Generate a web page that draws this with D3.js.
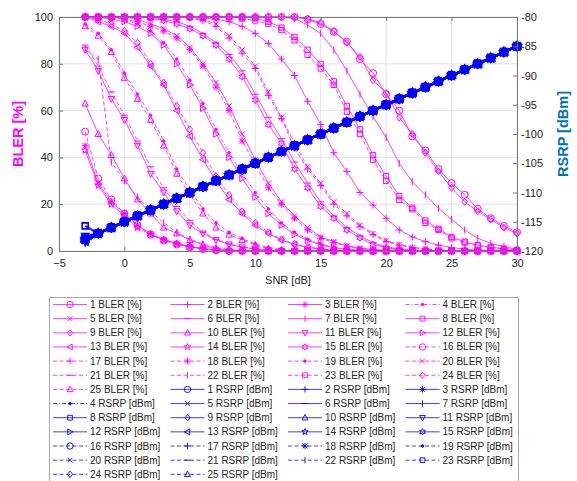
<!DOCTYPE html>
<html><head><meta charset="utf-8">
<script src="https://cdn.jsdelivr.net/npm/d3@7"></script>
<style>body{margin:0;background:#fff} text{font-family:"Liberation Sans",Arial,Helvetica,sans-serif}</style>
</head><body><svg id="c" width="577" height="481"></svg>
<script>
// ---------------- data ----------------
const snr = [-3,-2,-1,0,1,2,3,4,5,6,7,8,9,10,11,12,13,14,15,16,17,18,19,20,21,22,23,24,25,26,27,28,29,30];
const xTicks = [-5,0,5,10,15,20,25,30];
const blerTicks = [0,20,40,60,80,100];
const rsrpTicks = [-120,-115,-110,-105,-100,-95,-90,-85,-80];

const bler01 = [100,100,100,100,100,100,100,100,100,100,100,100,100,100,100,100,100,99,97,93.7,89.5,82,76,67,60,49,43,35,29,24,18,14,10.7,8];
const bler02 = [100,100,100,100,100,100,100,100,100,99.6,99,98,96,93,88.7,82,75,64,54,42,34,25,19.6,14,9,6,4,2.5,1.5,0.8,0.4,0.2,0,0];
const bler03 = [45,29,21,16,11,7.5,5,3.3,2,1,0.5,0.2,0,0,0,0,0,0,0,0,0,0,0,0,0,0,0,0,0,0,0,0,0,0];
const bler04 = [100,100,100,99,97,94,89,82,73,63,52,42,33,25,18,12,8,5,3,1.6,0.8,0.3,0,0,0,0,0,0,0,0,0,0,0,0];
const bler05 = [100,100,100,100,99,97,95,92,87,80,72,62,50,39,29,21,15,10,6,4,2.3,1.2,0.6,0.3,0.1,0,0,0,0,0,0,0,0,0];
const bler06 = [100,100,100,100,100,100,99,98,96,93,89,84,77,67,57,48,38,29,21,15,10,6.5,3.5,1.8,0.8,0.3,0,0,0,0,0,0,0,0];
const bler07 = [100,100,100,100,100,100,100,100,100,100,100,100,100,100,100,99.8,99.4,96.6,93,86,77,67,57.5,48.5,37.5,29.6,24,18.2,13.5,9,5.4,3.3,1.9,0.7];
const bler08 = [100,100,100,100,100,100,100,100,100,100,100,100,100,99.5,98,95.5,91.5,86,80,72.5,62,52,41,32,23.5,18.5,13,9.5,6,4,2.5,1.6,1,0.5];
const bler09 = [100,100,100,100,100,100,100,100,100,100,100,100,100,100,100,100,100,99.3,97.5,94,89,83,73,67.5,57,50,42,34,27,21,17,13.5,10,7.5];
const bler10 = [63,50,41,31,22,16,10,7.5,4.7,2.6,1,0.5,0.2,0,0,0,0,0,0,0,0,0,0,0,0,0,0,0,0,0,0,0,0,0];
const bler11 = [86,77,65,56,45,33,25,17,11,7.5,4.7,2.8,1.6,0.8,0.3,0,0,0,0,0,0,0,0,0,0,0,0,0,0,0,0,0,0,0];
const bler12 = [100,100,99,98,96,93,88,80,71,61,50,40,31,23,16,11,7,4.5,2.6,1.4,0.6,0.2,0,0,0,0,0,0,0,0,0,0,0,0];
const bler13 = [100,98,96,93,87,79,71,60,49,39,30,22,16,11,7.5,4.7,2.8,1.5,0.8,0.3,0,0,0,0,0,0,0,0,0,0,0,0,0,0];
const bler14 = [43,28,20,15,10,7,4.7,3,1.8,0.9,0.4,0.1,0,0,0,0,0,0,0,0,0,0,0,0,0,0,0,0,0,0,0,0,0,0];
const bler15 = [100,100,100,100,100,99.5,98.5,97,95,92,88,82,74.5,64.5,54,46,35,27,19,14,9,5.6,2.8,1.4,0.6,0.2,0,0,0,0,0,0,0,0];
const bler16 = [51,31,22,16,11,7,4.5,2.8,1.6,0.8,0.3,0,0,0,0,0,0,0,0,0,0,0,0,0,0,0,0,0,0,0,0,0,0,0];
const bler17 = [100,100,100,100,100,100,100,100,99.5,98.5,96,91,84.5,78,66.5,56.7,44,35,28,20,15,10.4,7,4,2.5,1.5,0.8,0.4,0.2,0,0,0,0,0];
const bler18 = [100,100,100,99,98,96,94,91,86,79,70,60,47,37,27,20,14,9,5.4,3.6,2,1,0.5,0.2,0,0,0,0,0,0,0,0,0,0];
const bler19 = [97,93,86,76,67,58,47,35,26,18,12,8,5.3,3,1.5,0.6,0.2,0,0,0,0,0,0,0,0,0,0,0,0,0,0,0,0,0];
const bler20 = [100,100,100,100,100,100,100,100,99.7,99,97,92,86,79,68,57,46,36,29,21,16,11,7.5,4.5,2.8,1.6,0.9,0.5,0.2,0,0,0,0,0];
const bler21 = [88,79,68,58,47,36,27,19,13,8,5,3,1.8,1,0.4,0.1,0,0,0,0,0,0,0,0,0,0,0,0,0,0,0,0,0,0];
const bler22 = [86,82,38,30,23,17,12,8,5,3,1.5,0.6,0.2,0,0,0,0,0,0,0,0,0,0,0,0,0,0,0,0,0,0,0,0,0];
const bler23 = [100,100,100,100,100,100,100,100,100,100,100,100,99.3,98.5,97,94.4,90,83.8,78,71,59.5,50,39,30,21.8,17.8,12,9,5.4,3.6,2.3,1.4,0.9,0.4];
const bler24 = [100,99,97,94,89,80,72,62,52,42,32,24,17,12,8,5,3,1.7,0.9,0.4,0.1,0,0,0,0,0,0,0,0,0,0,0,0,0];
const bler25 = [96,92,85,74,65,56,45,33,24,16,10,7,4.7,2.6,1,0.4,0,0,0,0,0,0,0,0,0,0,0,0,0,0,0,0,0,0];
const blerSeries = [bler01,bler02,bler03,bler04,bler05,bler06,bler07,bler08,bler09,bler10,bler11,bler12,bler13,
  bler14,bler15,bler16,bler17,bler18,bler19,bler20,bler21,bler22,bler23,bler24,bler25];

// RSRP: every series follows the same readings after the first SNR point
const rsrpBase = [-118,-117,-116,-115,-114,-113,-112,-111,-110,-109,-108,-107,-106,-105,-104,-103,-102,-101,-100,-99,-98,-97,-96,-95,-94,-93,-92,-91,-90,-89,-88,-87,-86,-85];
const rsrpStart = [-118,-117.6,-118.3,-118,-117.8,-118.5,-118,-115.7,-118.2,-118,-117.5,-118,-118.4,-118,-117.9,-118,-118.6,-118,-117.7,-118,-118.2,-118,-118,-118.1,-117.9];

const markerOrder = ['o','+','*','.','x','_','|','s','d','^','v','>','<','p','h','o','+','*','.','x','_','|','s','d','^'];
const styleOrder = ['-','-','-','-.','-','-','-','-','-','-','-','-','-','-','-','--','--','--','--','--','--','--','--','--','--'];

// ---------------- drawing ----------------
const MAG = '#ff00ff', BLUE = '#0000ff';
const svg = d3.select('#c');
const L = 59, Rr = 517, T = 17, B = 251;
const x = d3.scaleLinear().domain([-5,30]).range([L,Rr]);
const yL = d3.scaleLinear().domain([0,100]).range([B,T]);
const yR = d3.scaleLinear().domain([-120,-80]).range([B,T]);

// grid
const g = svg.append('g');
g.selectAll('.vg').data(xTicks).join('line').attr('x1',d=>x(d)).attr('x2',d=>x(d)).attr('y1',T).attr('y2',B)
  .attr('stroke','#e3e3e3').attr('stroke-width',1);
g.selectAll('.hg').data(blerTicks).join('line').attr('y1',d=>yL(d)).attr('y2',d=>yL(d)).attr('x1',L).attr('x2',Rr)
  .attr('stroke','#e3e3e3').attr('stroke-width',1);

function glyph(m, r){
  const a = r*0.75;
  const star = (n, ro, ri) => {
    let p = '';
    for (let k=0;k<2*n;k++){
      const ang = -Math.PI/2 + k*Math.PI/n, rad = k%2===0?ro:ri;
      p += (k?'L':'M') + (rad*Math.cos(ang)).toFixed(2)+','+(rad*Math.sin(ang)).toFixed(2);
    }
    return p+'Z';
  };
  switch(m){
    case 'o': return `M${r},0A${r},${r} 0 1,1 ${-r},0A${r},${r} 0 1,1 ${r},0Z`;
    case '+': return `M${-r},0H${r}M0,${-r}V${r}`;
    case '*': return `M${-r},0H${r}M0,${-r}V${r}M${-a},${-a}L${a},${a}M${-a},${a}L${a},${-a}`;
    case '.': { const q=1.3; return `M${q},0A${q},${q} 0 1,1 ${-q},0A${q},${q} 0 1,1 ${q},0Z`; }
    case 'x': return `M${-a},${-a}L${a},${a}M${-a},${a}L${a},${-a}`;
    case '_': return `M${-r},0H${r}`;
    case '|': return `M0,${-r}V${r}`;
    case 's': return `M${-a},${-a}H${a}V${a}H${-a}Z`;
    case 'd': return `M0,${-r}L${r*0.8},0L0,${r}L${-r*0.8},0Z`;
    case '^': return `M0,${-r}L${r*0.9},${r*0.7}L${-r*0.9},${r*0.7}Z`;
    case 'v': return `M0,${r}L${r*0.9},${-r*0.7}L${-r*0.9},${-r*0.7}Z`;
    case '>': return `M${r},0L${-r*0.7},${-r*0.9}L${-r*0.7},${r*0.9}Z`;
    case '<': return `M${-r},0L${r*0.7},${-r*0.9}L${r*0.7},${r*0.9}Z`;
    case 'p': return star(5, r*1.05, r*0.45);
    case 'h': return star(6, r*1.0, r*0.55);
  }
  return '';
}
function dash(s){ return s==='--' ? '4,2.5' : (s==='-.' ? '4,2,1,2' : null); }

function drawSeries(vals, yScale, color, i, width, mr, mw){
  const pts = snr.map((s,k)=>[s, vals[k]]);
  const line = d3.line().x(d=>x(d[0])).y(d=>yScale(d[1]));
  const gg = svg.append('g');
  gg.append('path').attr('d', line(pts)).attr('fill','none').attr('stroke',color)
    .attr('stroke-width',width).attr('stroke-dasharray',dash(styleOrder[i])).attr('stroke-opacity',0.85);
  const m = markerOrder[i];
  gg.selectAll('path.m').data(pts).join('path').attr('class','m')
    .attr('transform',d=>`translate(${x(d[0])},${yScale(d[1])})`)
    .attr('d', glyph(m, mr))
    .attr('fill', m==='.'?color:'none').attr('stroke',color).attr('stroke-width',mw);
}
blerSeries.forEach((v,i)=>drawSeries(v, yL, MAG, i, 0.9, 3.5, 1.0));
rsrpStart.forEach((s0,i)=>{
  const vals = [s0].concat(rsrpBase.slice(1));
  drawSeries(vals, yR, BLUE, i, 2.2, 4.0, 1.6);
});

// axes
const axCol = '#262626';
const fs = '11px';
function styleAxis(sel){
  sel.select('.domain').attr('stroke','#7a7a7a');
  sel.selectAll('.tick line').attr('stroke','#7a7a7a');
  sel.selectAll('.tick text').attr('fill',axCol).style('font-size',fs).style('font-family','"Liberation Sans",Arial,sans-serif');
}
svg.append('g').attr('transform',`translate(0,${B})`)
  .call(d3.axisBottom(x).tickValues(xTicks).tickSizeInner(-4).tickSizeOuter(0).tickPadding(8)).call(styleAxis);
svg.append('g').attr('transform',`translate(0,${T})`)
  .call(d3.axisTop(x).tickValues(xTicks).tickSizeInner(-4).tickSizeOuter(0).tickFormat('')).call(styleAxis);
svg.append('g').attr('transform',`translate(${L},0)`)
  .call(d3.axisLeft(yL).tickValues(blerTicks).tickSizeInner(-4).tickSizeOuter(0).tickPadding(6)).call(styleAxis);
svg.append('g').attr('transform',`translate(${Rr},0)`)
  .call(d3.axisRight(yR).tickValues(rsrpTicks).tickSizeInner(-4).tickSizeOuter(0).tickPadding(4)
    .tickFormat(d=>String(d).replace('\u2212','-'))).call(styleAxis);

svg.append('text').attr('x',(L+Rr)/2).attr('y',284).attr('text-anchor','middle')
  .style('font-size','11px').attr('fill',axCol).text('SNR [dB]');
svg.append('text').attr('transform',`translate(23,${(T+B)/2}) rotate(-90)`).attr('text-anchor','middle')
  .style('font-size','14.5px').style('font-weight','bold').attr('fill',MAG).text('BLER [%]');
svg.append('text').attr('transform',`translate(568,${(T+B)/2}) rotate(-90)`).attr('text-anchor','middle')
  .style('font-size','14.5px').style('font-weight','bold').attr('fill','#0072BD').text('RSRP [dBm]');

// legend
const leg = svg.append('g');
leg.append('rect').attr('x',49.5).attr('y',297.5).attr('width',469).attr('height',200)
  .attr('fill','#fff').attr('stroke','#a8a8a8').attr('stroke-width',1);
const entries = [];
blerSeries.forEach((v,i)=>entries.push({label:`${i+1} BLER [%]`, color:MAG, i}));
rsrpStart.forEach((v,i)=>entries.push({label:`${i+1} RSRP [dBm]`, color:BLUE, i}));
entries.forEach((e,k)=>{
  const col = k%4, row = Math.floor(k/4);
  const x0 = 53 + col*117.5, yy = 304.5 + row*14.15;
  leg.append('line').attr('x1',x0).attr('x2',x0+34).attr('y1',yy).attr('y2',yy)
    .attr('stroke',e.color).attr('stroke-width',0.9).attr('stroke-dasharray',dash(styleOrder[e.i])).attr('stroke-opacity',0.85);
  const m = markerOrder[e.i];
  leg.append('path').attr('transform',`translate(${x0+17},${yy})`).attr('d',glyph(m,3.2))
    .attr('fill',m==='.'?e.color:'none').attr('stroke',e.color).attr('stroke-width',0.9);
  leg.append('text').attr('x',x0+37).attr('y',yy+3.5).style('font-size','10px').attr('fill',axCol).text(e.label);
});
</script></body></html>
